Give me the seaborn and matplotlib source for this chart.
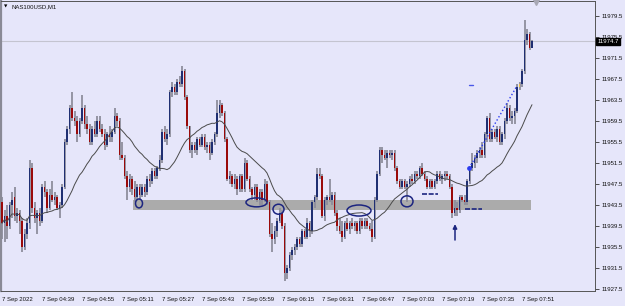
import numpy as np
import pandas as pd
import matplotlib
matplotlib.use("Agg")
import matplotlib.pyplot as plt
from matplotlib.patches import Ellipse, Rectangle
import matplotlib.transforms as mtransforms
import seaborn as sns

# NAS100USD M1 candles, 7 Sep 04:23 -> 07:55
opens = [
    11944.0, 11940.0, 11941.5, 11939.5, 11943.5, 11945.0, 11941.5, 11942.0, 11940.5, 11935.5,
    11938.0, 11940.0, 11950.5, 11943.0, 11941.0, 11942.0, 11940.5, 11947.0, 11946.0, 11943.0,
    11945.5, 11944.5, 11945.0, 11943.0, 11943.5, 11947.0, 11955.5, 11958.0, 11962.0, 11960.0,
    11959.5, 11957.0, 11959.5, 11962.0, 11959.0, 11958.0, 11955.5, 11958.0, 11957.0, 11959.5,
    11958.0, 11957.0, 11955.0, 11957.0, 11956.5, 11957.5, 11960.5, 11959.5, 11953.0, 11952.5,
    11949.0, 11947.0, 11948.5, 11946.5, 11945.0, 11947.0, 11945.5, 11947.0, 11946.0, 11948.5,
    11948.0, 11950.0, 11949.0, 11950.5, 11952.0, 11957.5, 11956.0, 11957.0, 11965.0, 11966.0,
    11965.0, 11967.0, 11966.5, 11969.0, 11964.0, 11958.5, 11954.0, 11955.0, 11954.0, 11956.0,
    11955.0, 11956.5, 11954.5, 11955.0, 11953.5, 11955.5, 11957.0, 11961.0, 11962.5, 11961.0,
    11956.0, 11948.5, 11949.0, 11947.5, 11948.5, 11946.5, 11949.0, 11946.5, 11951.5, 11948.5,
    11946.5, 11945.5, 11947.0, 11944.5, 11946.0, 11944.5, 11947.5, 11944.0, 11938.0, 11937.0,
    11938.5, 11940.5, 11942.0, 11939.5, 11930.5, 11931.5, 11934.0, 11935.0, 11935.5, 11937.0,
    11936.0, 11938.5, 11937.5, 11940.0, 11938.5, 11944.0, 11945.0, 11949.5, 11949.0, 11941.5,
    11944.5, 11945.0, 11944.5, 11945.5, 11942.0, 11939.5, 11938.5, 11937.5, 11940.0, 11939.0,
    11940.0, 11939.5, 11940.0, 11938.5, 11940.5, 11939.5, 11940.5, 11939.5, 11939.0, 11937.5,
    11944.5, 11949.5, 11954.0, 11953.0, 11952.5, 11953.5, 11953.0, 11953.5, 11950.5, 11948.0,
    11947.0, 11948.0, 11947.0, 11947.5, 11948.5, 11948.0, 11949.5, 11949.0, 11950.5, 11949.5,
    11948.5, 11947.0, 11948.0, 11947.0, 11948.0, 11949.5, 11948.5, 11949.0, 11949.5, 11949.0,
    11947.0, 11942.0, 11943.0, 11942.5, 11945.0, 11944.5, 11944.0, 11948.0, 11950.5, 11951.5,
    11952.5, 11953.5, 11954.0, 11953.0, 11957.0, 11960.0, 11956.0, 11957.5, 11956.5, 11958.0,
    11955.5, 11957.0, 11959.5, 11962.0, 11960.0, 11960.5, 11961.5, 11966.0, 11966.5, 11969.0,
    11975.0, 11976.0, 11973.5,
]
highs = [
    11945.0, 11942.5, 11943.5, 11944.0, 11946.0, 11947.0, 11943.0, 11942.5, 11941.0, 11939.0,
    11941.0, 11952.0, 11951.5, 11944.0, 11942.5, 11943.0, 11947.5, 11948.0, 11946.5, 11946.5,
    11948.0, 11946.0, 11945.5, 11944.0, 11947.5, 11956.0, 11958.5, 11962.5, 11965.0, 11961.5,
    11960.5, 11960.0, 11964.5, 11962.5, 11960.5, 11959.0, 11958.5, 11959.5, 11960.5, 11960.5,
    11959.0, 11958.0, 11957.5, 11958.5, 11958.0, 11962.0, 11961.0, 11960.0, 11955.5, 11953.0,
    11950.0, 11949.5, 11949.0, 11948.0, 11947.5, 11947.5, 11947.5, 11947.5, 11949.0, 11949.5,
    11950.5, 11950.5, 11951.0, 11953.0, 11958.0, 11958.5, 11958.0, 11965.5, 11967.0, 11966.5,
    11967.5, 11968.0, 11970.0, 11969.5, 11964.5, 11958.5, 11955.5, 11955.5, 11956.5, 11956.5,
    11957.0, 11957.0, 11955.5, 11955.5, 11956.0, 11957.5, 11963.5, 11963.5, 11963.0, 11961.5,
    11956.5, 11950.0, 11949.5, 11949.5, 11949.0, 11949.5, 11949.5, 11952.5, 11952.0, 11949.0,
    11947.0, 11947.5, 11947.5, 11946.5, 11946.5, 11948.5, 11948.0, 11944.5, 11940.0, 11939.5,
    11941.0, 11943.0, 11942.5, 11940.0, 11932.0, 11934.5, 11935.5, 11936.0, 11937.5, 11937.5,
    11939.0, 11939.0, 11941.0, 11940.5, 11944.5, 11945.5, 11950.5, 11950.5, 11949.5, 11945.0,
    11945.5, 11948.5, 11946.0, 11946.0, 11942.5, 11941.0, 11940.5, 11940.5, 11941.0, 11940.5,
    11941.0, 11940.5, 11940.5, 11941.0, 11941.0, 11941.0, 11941.0, 11940.0, 11940.5, 11945.0,
    11950.0, 11954.5, 11954.5, 11954.0, 11954.0, 11954.0, 11954.0, 11954.0, 11951.0, 11948.5,
    11948.5, 11948.5, 11948.0, 11949.0, 11949.5, 11950.0, 11950.0, 11951.0, 11951.5, 11950.0,
    11949.0, 11948.5, 11948.5, 11948.5, 11950.0, 11950.0, 11949.5, 11950.0, 11950.0, 11949.5,
    11947.5, 11944.5, 11944.0, 11945.5, 11945.5, 11945.5, 11948.5, 11951.0, 11953.5, 11953.0,
    11954.0, 11954.5, 11955.5, 11957.5, 11960.5, 11961.0, 11958.0, 11958.0, 11958.5, 11958.5,
    11957.5, 11960.0, 11963.0, 11962.5, 11961.5, 11962.0, 11966.5, 11967.0, 11969.5, 11978.7,
    11977.0, 11976.5, 11975.0,
]
lows = [
    11937.0, 11936.5, 11937.0, 11939.0, 11941.0, 11940.5, 11940.0, 11938.0, 11934.5, 11935.0,
    11937.0, 11939.0, 11942.0, 11940.0, 11938.0, 11939.5, 11940.0, 11945.0, 11942.0, 11942.5,
    11944.0, 11943.5, 11942.5, 11941.0, 11943.0, 11946.5, 11955.0, 11957.0, 11959.5, 11958.5,
    11955.5, 11956.5, 11959.0, 11958.0, 11957.0, 11955.0, 11955.0, 11956.5, 11956.5, 11957.5,
    11956.5, 11954.0, 11954.5, 11955.5, 11955.5, 11957.0, 11958.5, 11952.0, 11952.0, 11948.5,
    11944.5, 11946.0, 11945.5, 11944.0, 11944.5, 11944.5, 11945.0, 11945.0, 11945.5, 11947.0,
    11947.5, 11948.5, 11948.5, 11950.0, 11951.5, 11955.5, 11955.0, 11956.5, 11964.0, 11964.5,
    11964.5, 11966.0, 11966.0, 11963.5, 11958.0, 11953.5, 11952.5, 11953.5, 11953.0, 11954.5,
    11954.5, 11954.0, 11953.5, 11952.0, 11953.0, 11955.0, 11956.5, 11960.0, 11960.5, 11955.5,
    11948.0, 11947.5, 11947.0, 11946.5, 11945.5, 11946.0, 11946.0, 11946.0, 11948.0, 11946.0,
    11944.5, 11944.5, 11944.0, 11943.5, 11943.5, 11944.0, 11943.5, 11937.5, 11934.5, 11936.0,
    11937.5, 11940.0, 11939.0, 11929.0, 11929.5, 11931.0, 11933.0, 11934.0, 11935.0, 11935.5,
    11935.5, 11937.0, 11937.0, 11937.5, 11938.0, 11943.0, 11944.5, 11948.5, 11941.0, 11940.5,
    11943.5, 11944.0, 11943.5, 11941.5, 11938.5, 11938.0, 11936.5, 11937.0, 11938.5, 11938.0,
    11939.0, 11938.5, 11938.0, 11938.0, 11939.0, 11939.0, 11939.0, 11938.5, 11936.5, 11937.0,
    11944.0, 11949.0, 11951.5, 11952.0, 11950.5, 11952.5, 11952.0, 11950.0, 11947.5, 11946.5,
    11946.5, 11946.5, 11944.0, 11947.0, 11947.5, 11947.5, 11948.5, 11948.5, 11949.0, 11948.0,
    11946.5, 11946.5, 11946.5, 11946.5, 11947.5, 11948.0, 11947.5, 11948.0, 11948.5, 11946.5,
    11941.0, 11941.5, 11941.5, 11942.0, 11944.0, 11943.5, 11943.5, 11947.5, 11950.0, 11950.5,
    11951.5, 11952.5, 11952.5, 11952.5, 11955.5, 11955.5, 11955.5, 11956.0, 11955.5, 11955.0,
    11955.0, 11956.0, 11959.0, 11959.5, 11959.0, 11959.0, 11961.0, 11965.5, 11966.0, 11968.5,
    11974.0, 11973.0, 11973.5,
]
closes = [
    11940.0, 11941.5, 11939.5, 11943.5, 11944.5, 11941.5, 11942.0, 11940.5, 11935.5, 11938.0,
    11940.0, 11950.5, 11943.0, 11941.0, 11942.0, 11940.5, 11947.0, 11946.0, 11943.0, 11945.5,
    11944.5, 11945.0, 11943.0, 11943.5, 11947.0, 11955.5, 11958.0, 11962.0, 11960.0, 11959.5,
    11957.0, 11959.5, 11962.0, 11959.0, 11958.0, 11955.5, 11958.0, 11957.0, 11959.5, 11958.0,
    11957.0, 11955.0, 11957.0, 11956.5, 11957.5, 11960.5, 11959.5, 11953.0, 11952.5, 11949.0,
    11947.0, 11948.5, 11946.5, 11945.0, 11947.0, 11945.5, 11947.0, 11946.0, 11948.5, 11948.0,
    11950.0, 11949.0, 11950.5, 11952.0, 11957.5, 11956.0, 11957.0, 11965.0, 11966.0, 11965.0,
    11967.0, 11966.5, 11969.0, 11964.0, 11958.5, 11954.0, 11955.0, 11954.0, 11956.0, 11955.0,
    11956.5, 11954.5, 11955.0, 11953.5, 11955.5, 11957.0, 11961.0, 11962.5, 11961.0, 11956.0,
    11948.5, 11949.0, 11947.5, 11948.5, 11946.5, 11949.0, 11946.5, 11951.5, 11948.5, 11946.5,
    11945.5, 11947.0, 11944.5, 11946.0, 11944.5, 11947.5, 11944.0, 11938.0, 11937.0, 11938.5,
    11940.5, 11942.0, 11939.5, 11930.5, 11931.5, 11934.0, 11935.0, 11935.5, 11937.0, 11936.0,
    11938.5, 11937.5, 11940.0, 11938.5, 11944.0, 11945.0, 11949.5, 11949.0, 11941.5, 11944.5,
    11945.0, 11944.5, 11945.5, 11942.0, 11939.5, 11938.5, 11937.5, 11940.0, 11939.0, 11940.0,
    11939.5, 11940.0, 11938.5, 11940.5, 11939.5, 11940.5, 11939.5, 11939.0, 11937.5, 11944.5,
    11949.5, 11954.0, 11953.0, 11952.5, 11953.5, 11953.0, 11953.5, 11950.5, 11948.0, 11947.0,
    11948.0, 11947.0, 11947.5, 11948.5, 11948.0, 11949.5, 11949.0, 11950.5, 11949.5, 11948.5,
    11947.0, 11948.0, 11947.0, 11948.0, 11949.5, 11948.5, 11949.0, 11949.5, 11949.0, 11947.0,
    11942.0, 11943.0, 11942.5, 11945.0, 11944.5, 11944.0, 11948.0, 11950.5, 11951.5, 11952.5,
    11953.5, 11954.0, 11953.0, 11957.0, 11960.0, 11956.0, 11957.5, 11956.5, 11958.0, 11955.5,
    11957.0, 11959.5, 11962.0, 11960.0, 11960.5, 11961.5, 11966.0, 11966.5, 11969.0, 11975.0,
    11976.0, 11973.5, 11974.7,
]

time_labels = ["7 Sep 2022", "7 Sep 04:39", "7 Sep 04:55", "7 Sep 05:11", "7 Sep 05:27",
               "7 Sep 05:43", "7 Sep 05:59", "7 Sep 06:15", "7 Sep 06:31", "7 Sep 06:47",
               "7 Sep 07:03", "7 Sep 07:19", "7 Sep 07:35", "7 Sep 07:51"]
price_ticks = [11927.5, 11931.5, 11935.5, 11939.5, 11943.5, 11947.5, 11951.5,
               11955.5, 11959.5, 11963.5, 11967.5, 11971.5, 11975.5, 11979.5]
symbol = "NAS100USD,M1"
last_price = 11974.7
zone_low, zone_high = 11942.5, 11944.4
gold_bar = 207  # the one highlighted candle

bg = "#E6E6FA"
bull = "#1f2f72"
bear = "#9a0a0a"
wick = "#8e8e9c"
navy = "#1c2580"

df = pd.DataFrame({"open": opens, "high": highs, "low": lows, "close": closes})
df["ma"] = df["close"].rolling(21, min_periods=1).mean()
idx = np.arange(len(df))

sns.set_style("white")
plt.rcParams["font.family"] = ["Liberation Sans", "DejaVu Sans"]

fig = plt.figure(figsize=(6.25, 3.06), dpi=100, facecolor=bg)
ax = fig.add_axes([1 / 625, 15 / 306, 594 / 625, 290 / 306])
ax.set_facecolor(bg)

# support zone
ax.add_patch(Rectangle((52.4, zone_low), 211.6 - 52.4, zone_high - zone_low,
                       color="#ababab", lw=0, zorder=1))
ax.axhline(last_price, color="#c4c4d0", lw=0.8, zorder=0.5)

# candles
ax.vlines(idx, df["low"], df["high"], color=wick, lw=1.3, zorder=2)
colors = np.where(df["close"] >= df["open"], bull, bear).astype(object)
colors[gold_bar] = "#f0c040"
body = (df["close"] - df["open"]).abs().clip(lower=0.25)
ax.bar(idx, body, bottom=df[["open", "close"]].min(axis=1), width=0.72,
       color=list(colors), lw=0, zorder=3)

sns.lineplot(x=idx, y=df["ma"], ax=ax, color="#4a4a4a", lw=0.7, zorder=4)

# hand-drawn marks
for cx, cy, w, h in [(54.8, 11943.8, 2.8, 1.7), (101.8, 11944.0, 8.4, 1.7),
                     (110.6, 11942.7, 4.4, 1.9), (142.8, 11942.45, 9.6, 2.1),
                     (162.0, 11944.2, 4.8, 2.1)]:
    ax.add_patch(Ellipse((cx, cy), w, h, fill=False, ec=navy, lw=1.1, zorder=5))
ax.plot([168.0, 174.4], [11945.6, 11945.6], color=navy, lw=1.2, ls=(0, (3, 1)), zorder=5)
ax.plot([185.2, 192.0], [11942.7, 11942.7], color=navy, lw=1.2, ls=(0, (3, 1)), zorder=5)
ax.annotate("", xy=(181.2, 11940.4), xytext=(181.2, 11936.3),
            arrowprops=dict(arrowstyle="-|>", color=navy, lw=1.1, mutation_scale=6), zorder=5)
ax.plot([186.8, 206.0], [11950.5, 11966.2], ls=":", color="#2b3cf0", lw=1.0, zorder=5)
ax.plot([186.8], [11950.5], "o", ms=2.4, color="#2b3cf0", zorder=5)
ax.plot([186.8, 188.4], [11966.4, 11966.4], color="#4a58e8", lw=1.0, zorder=5)
ax.plot([213.6], [11982.1], marker="v", ms=4, color="#a8a8b4", clip_on=False, zorder=6)

ax.set_xlim(-0.4, 237.2)
ax.set_ylim(11927.12, 11982.36)

ax.yaxis.tick_right()
ax.set_yticks(price_ticks)
ax.set_yticklabels([f"{v:.1f}" for v in price_ticks])
ax.set_xticks(range(0, len(df), 16))
ax.set_xticklabels(time_labels, ha="left")
ax.tick_params(axis="both", direction="out", length=3, width=0.6, color="#333333",
               labelsize=4.3, labelcolor="#111111", pad=1)
ax.tick_params(axis="y", pad=1.5)
ax.set_xlabel("")
ax.set_ylabel("")
for s in ax.spines.values():
    s.set_color("#555555")
    s.set_linewidth(0.7)
ax.spines["left"].set_color("#8a8a96")
ax.spines["left"].set_linewidth(1.6)

# current price tag
trans = mtransforms.blended_transform_factory(ax.transAxes, ax.transData)
ax.text(1.004, last_price, f"{last_price:.1f}", transform=trans, fontsize=4.3,
        color="white", va="center", ha="left", zorder=7, clip_on=False,
        bbox=dict(boxstyle="square,pad=0.15", fc="black", ec="black"))

fig.text(4 / 625, 1 - 7 / 306, "\u25bc", fontsize=3.2, va="center", ha="left",
         family="DejaVu Sans", color="black")
fig.text(11 / 625, 1 - 7 / 306, symbol, fontsize=4.3, va="center", ha="left", color="#111111")

fig.savefig("out.png", dpi=100, facecolor=bg)
